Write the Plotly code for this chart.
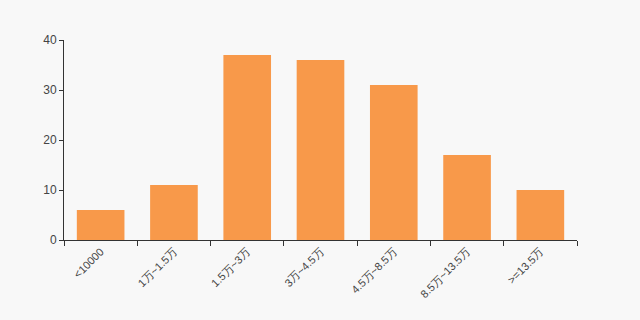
import plotly.graph_objects as go

categories = ["<10000", "1万~1.5万", "1.5万~3万", "3万~4.5万", "4.5万~8.5万", "8.5万~13.5万", ">=13.5万"]
values = [6, 11, 37, 36, 31, 17, 10]

fig = go.Figure(go.Bar(x=categories, y=values, marker=dict(color="#F8994A", line=dict(width=0)), width=0.65))

fig.update_layout(
    width=640, height=320,
    margin=dict(l=64, r=63, t=40, b=80),
    paper_bgcolor="#F8F8F8", plot_bgcolor="#F8F8F8",
    font=dict(family="Liberation Sans, Arial, sans-serif", size=11, color="#444"),
    showlegend=False,
)
fig.update_xaxes(
    type="category", range=[-0.5, 6.5], tickangle=-45,
    showline=True, linecolor="#333", linewidth=1,
    ticks="outside", ticklen=5, tickcolor="#333", tickson="boundaries",
    showgrid=False, zeroline=False,
    tickfont=dict(size=11, color="#444"),
)
fig.update_yaxes(
    range=[0, 40], tickvals=[0, 10, 20, 30, 40],
    showline=True, linecolor="#333", linewidth=1,
    ticks="outside", ticklen=4, tickcolor="#333",
    showgrid=False, zeroline=False,
    tickfont=dict(size=12, color="#444"),
)

fig.write_html("out.html")
